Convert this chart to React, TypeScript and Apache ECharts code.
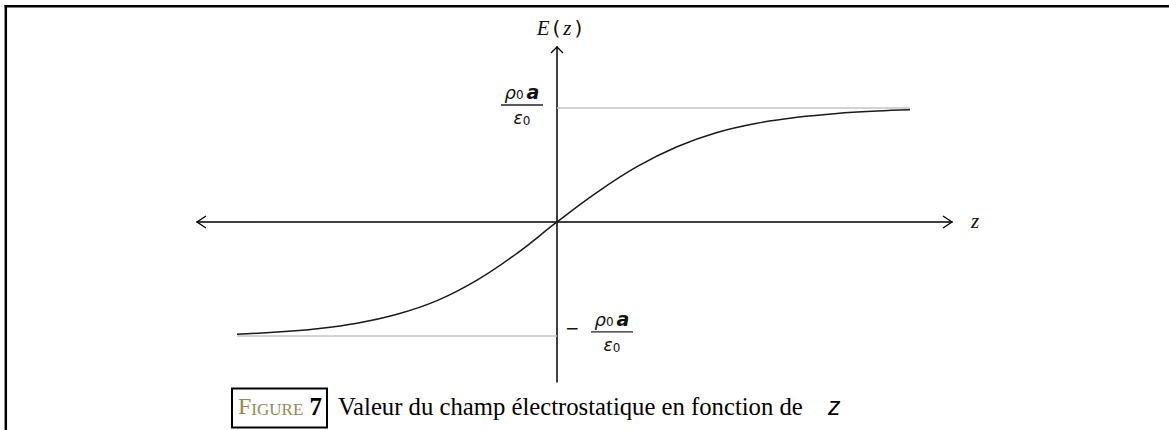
import React, { useEffect, useRef } from "react";
import * as echarts from "echarts";

// z in units of a, E in units of rho0*a/eps0
const zValues = [-3.2, -2.8, -2.4, -2.0, -1.6, -1.2, -0.8, -0.4, 0, 0.4, 0.8, 1.2, 1.6, 2.0, 2.4, 2.8, 3.2, 3.53];
const fieldValues = [-0.984, -0.966, -0.936, -0.888, -0.81, -0.69, -0.51, -0.275, 0, 0.26, 0.485, 0.66, 0.785, 0.866, 0.918, 0.952, 0.973, 0.984];

// saturation levels +/- rho0*a/eps0 and the z-span of their guide lines
const saturationLevels = [1, -1];
const upperGuideZ = [0, 3.53];
const lowerGuideZ = [-3.2, 0];

const zRange = [-3.6, 3.95];
const fieldRange = [-1.404, 1.535];

const axisNameX = "z";
const captionLead = "F";
const captionSmallCaps = "IGURE";
const figureNumber = "7";
const captionText = "Valeur du champ électrostatique en fonction de";
const captionVar = "z";

const LABEL_FONT = "'DejaVu Sans', 'Liberation Sans', sans-serif";
const SERIF = "'Liberation Serif', 'DejaVu Serif', serif";

export default function App() {
  const ref = useRef<HTMLDivElement>(null);

  useEffect(() => {
    if (!ref.current) return;
    const chart = echarts.init(ref.current, null, { renderer: "svg" });

    const axisCommon = {
      type: "value" as const,
      axisLine: { show: true, onZero: true, lineStyle: { color: "#000", width: 1.5 } },
      axisTick: { show: false },
      axisLabel: { show: false },
      splitLine: { show: false },
    };

    chart.setOption({
      animation: false,
      backgroundColor: "#fff",
      grid: { left: 197, right: 217, top: 47, bottom: 48 },
      xAxis: { ...axisCommon, min: zRange[0], max: zRange[1] },
      yAxis: { ...axisCommon, min: fieldRange[0], max: fieldRange[1] },
      series: [
        {
          type: "line",
          data: upperGuideZ.map((z) => [z, saturationLevels[0]]),
          symbol: "none",
          lineStyle: { color: "#c4c4c4", width: 1.5 },
          silent: true,
          z: 1,
        },
        {
          type: "line",
          data: lowerGuideZ.map((z) => [z, saturationLevels[1]]),
          symbol: "none",
          lineStyle: { color: "#c4c4c4", width: 1.5 },
          silent: true,
          z: 1,
        },
        {
          type: "line",
          data: zValues.map((z, i) => [z, fieldValues[i]]),
          symbol: "none",
          smooth: 0.4,
          lineStyle: { color: "#1a1a1a", width: 1.5 },
          z: 3,
        },
      ],
    });

    const px = (p: number[]) => chart.convertToPixel({ gridIndex: 0 }, p) as number[];
    const left = px([zRange[0], 0]);
    const right = px([zRange[1], 0]);
    const top = px([0, fieldRange[1]]);
    const origin = px([0, 0]);
    const upper = px([0, saturationLevels[0]]);
    const lower = px([0, saturationLevels[1]]);

    const arrowStyle = { stroke: "#000", lineWidth: 1.3, fill: null };

    const fraction = (cx: number, barY: number) => [
      {
        type: "text",
        x: cx,
        y: barY - 3,
        style: {
          text: "{r|ρ}{s|0}{a|a}",
          align: "center",
          verticalAlign: "bottom",
          rich: {
            r: { fontFamily: LABEL_FONT, fontSize: 18, fontStyle: "italic", fill: "#111" },
            s: { fontFamily: LABEL_FONT, fontSize: 12, fill: "#111", padding: [5, 3, 0, 0] },
            a: { fontFamily: LABEL_FONT, fontSize: 19, fontWeight: "bold", fontStyle: "italic", fill: "#111" },
          },
        },
      },
      {
        type: "line",
        shape: { x1: cx - 21, y1: barY, x2: cx + 21, y2: barY },
        style: { stroke: "#222", lineWidth: 1.3 },
      },
      {
        type: "text",
        x: cx,
        y: barY + 4,
        style: {
          text: "{e|ε}{s|0}",
          align: "center",
          verticalAlign: "top",
          rich: {
            e: { fontFamily: LABEL_FONT, fontSize: 17, fontStyle: "italic", fill: "#111" },
            s: { fontFamily: LABEL_FONT, fontSize: 12, fill: "#111", padding: [6, 0, 0, 0] },
          },
        },
      },
    ];

    chart.setOption({
      graphic: [
        // page frame
        { type: "line", shape: { x1: 4.6, y1: 6.2, x2: 1169, y2: 6.2 }, style: { stroke: "#000", lineWidth: 2.5 } },
        { type: "line", shape: { x1: 5.8, y1: 5, x2: 5.8, y2: 430 }, style: { stroke: "#000", lineWidth: 2.5 } },
        // axis arrowheads
        {
          type: "polyline",
          shape: { points: [[left[0] + 9, left[1] - 6], [left[0], left[1]], [left[0] + 9, left[1] + 6]] },
          style: arrowStyle,
        },
        {
          type: "polyline",
          shape: { points: [[right[0] - 9, right[1] - 6], [right[0], right[1]], [right[0] - 9, right[1] + 6]] },
          style: arrowStyle,
        },
        {
          type: "polyline",
          shape: { points: [[top[0] - 6, top[1] + 6], [top[0], top[1]], [top[0] + 6, top[1] + 6]] },
          style: arrowStyle,
        },
        // axis names
        {
          type: "text",
          x: top[0] + 3,
          y: top[1] - 19,
          style: {
            text: "{e|E}{p|(}{z|z}{p|)}",
            align: "center",
            verticalAlign: "middle",
            rich: {
              e: { fontFamily: SERIF, fontSize: 21, fontStyle: "italic", fill: "#111", padding: [0, 2, 0, 0] },
              p: { fontFamily: LABEL_FONT, fontSize: 20, fill: "#111", padding: [0, 1, 0, 1] },
              z: { fontFamily: SERIF, fontSize: 21, fontStyle: "italic", fill: "#111", padding: [0, 2, 0, 2] },
            },
          },
        },
        {
          type: "text",
          x: right[0] + 19,
          y: origin[1] - 1,
          style: {
            text: axisNameX,
            fontFamily: SERIF,
            fontSize: 21,
            fontStyle: "italic",
            fill: "#111",
            align: "left",
            verticalAlign: "middle",
          },
        },
        ...fraction(origin[0] - 35, upper[1] - 3),
        {
          type: "text",
          x: origin[0] + 8,
          y: lower[1] - 8,
          style: { text: "−", fontFamily: LABEL_FONT, fontSize: 17, fill: "#111", align: "left", verticalAlign: "middle" },
        },
        ...fraction(origin[0] + 55, lower[1] - 4),
        // caption
        {
          type: "rect",
          shape: { x: 232, y: 388.5, width: 95, height: 39 },
          style: { stroke: "#000", lineWidth: 2, fill: null },
        },
        {
          type: "text",
          x: 238,
          y: 418,
          style: {
            text: "{f|" + captionLead + "}{g|" + captionSmallCaps + "}",
            align: "left",
            verticalAlign: "bottom",
            rich: {
              f: { fontFamily: SERIF, fontSize: 24, fill: "#948a54", verticalAlign: "bottom", lineHeight: 24 },
              g: { fontFamily: SERIF, fontSize: 17, fill: "#948a54", verticalAlign: "bottom", lineHeight: 24 },
            },
          },
        },
        {
          type: "text",
          x: 322,
          y: 418,
          style: {
            text: figureNumber,
            fontFamily: SERIF,
            fontSize: 25,
            fontWeight: "bold",
            fill: "#000",
            align: "right",
            verticalAlign: "bottom",
            lineHeight: 24,
          },
        },
        {
          type: "text",
          x: 338,
          y: 418,
          style: {
            text: captionText,
            fontFamily: SERIF,
            fontSize: 24.7,
            fill: "#000",
            align: "left",
            verticalAlign: "bottom",
            lineHeight: 24,
          },
        },
        {
          type: "text",
          x: 828,
          y: 418,
          style: {
            text: captionVar,
            fontFamily: "'Liberation Sans', sans-serif",
            fontSize: 25,
            fontStyle: "italic",
            fill: "#000",
            align: "left",
            verticalAlign: "bottom",
            lineHeight: 24,
          },
        },
      ],
    });

    return () => chart.dispose();
  }, []);

  return (
    <div
      ref={ref}
      style={{ position: "fixed", left: 0, top: 0, width: 1169, height: 430, background: "#fff" }}
    />
  );
}
